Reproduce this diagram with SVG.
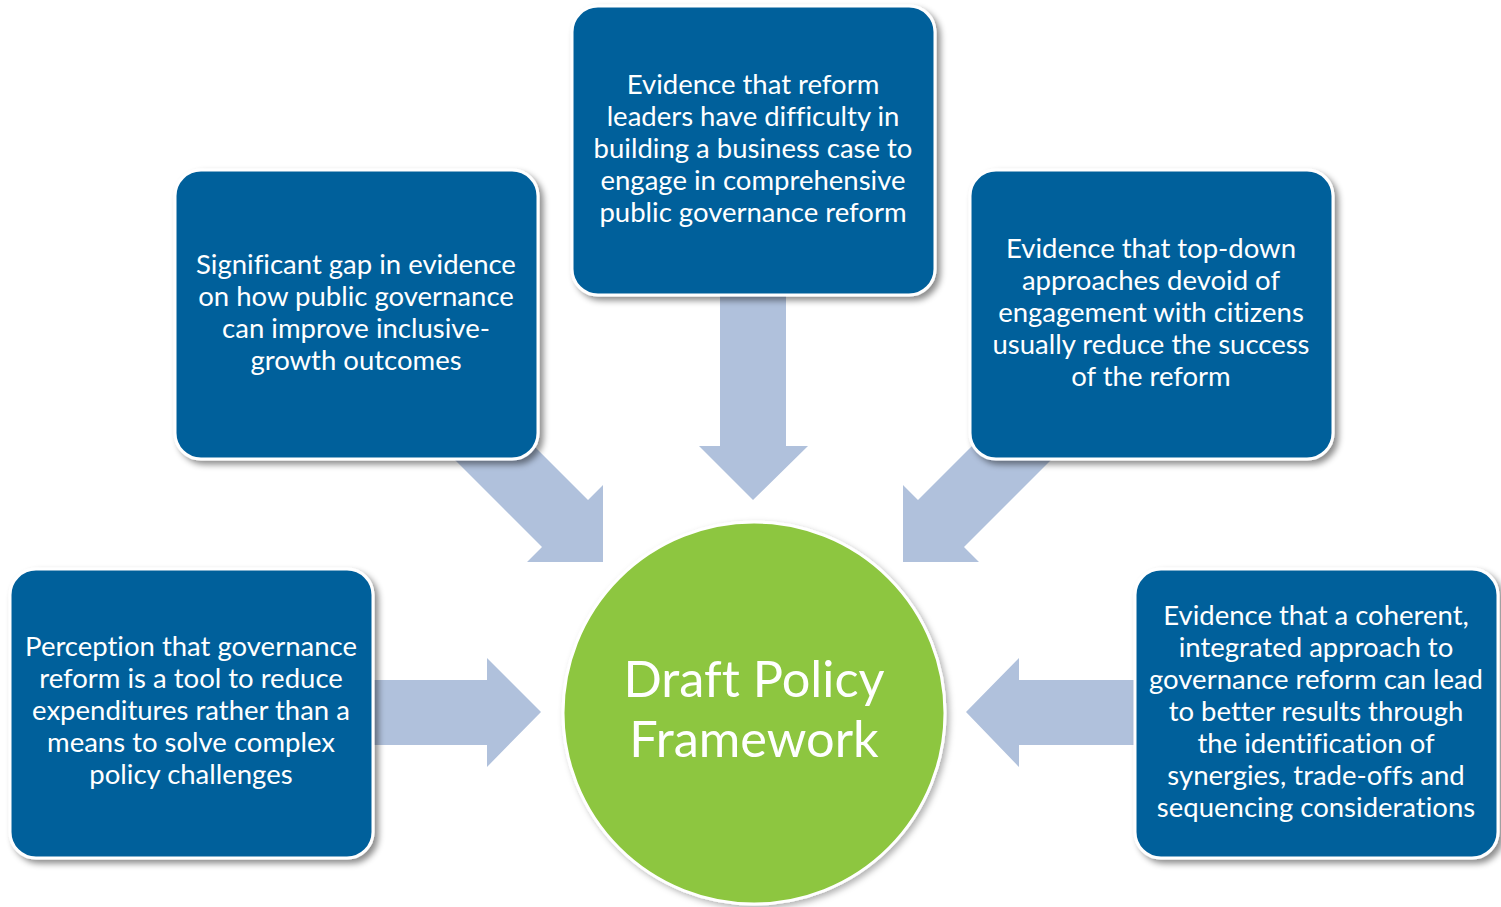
<svg xmlns="http://www.w3.org/2000/svg" width="1501" height="907" viewBox="0 0 1501 907">
<style>
.box{fill:#05619B;stroke:#FFFFFF;stroke-width:3;filter:url(#sh)}
.arr{fill:#B0C1DC}
.t{font-family:Lato,"Open Sans","DejaVu Sans",sans-serif;font-size:27.5px;fill:#FFFFFF;text-anchor:middle;font-variant-ligatures:none}
.c{font-family:Lato,"Open Sans","DejaVu Sans",sans-serif;font-size:50.5px;fill:#FFFFFF;text-anchor:middle;font-variant-ligatures:none}
</style>
<defs>
<filter id="sh" x="-10%" y="-10%" width="125%" height="125%">
<feDropShadow dx="4" dy="4" stdDeviation="3" flood-color="#000" flood-opacity="0.45"/>
</filter>
<filter id="shc" x="-10%" y="-10%" width="125%" height="125%">
<feDropShadow dx="3" dy="3" stdDeviation="3" flood-color="#000" flood-opacity="0.3"/>
</filter>
</defs>
<rect width="1501" height="907" fill="#FFFFFF"/>
<g id="connectors">
<polygon class="arr" points="720,280 786,280 786,446 808,446 753,500 699,446 720,446"/>
<polygon class="arr" points="360,680 487,680 487,658 541,712 487,767 487,745 360,745"/>
<polygon class="arr" points="1146,680 1019,680 1019,658 966,712 1019,767 1019,745 1146,745"/>
<polygon class="arr" points="488,400 588,500 603,485 603,562 527,562 542,547 440,445"/>
<polygon class="arr" points="1018,400 918,500 903,485 903,562 979,562 964,547 1066,445"/>
</g>
<g id="center">
<circle cx="754" cy="713" r="191" fill="#8DC63F" stroke="#FFFFFF" stroke-width="3" filter="url(#shc)"/>
<text class="c" x="754" y="697">Draft Policy</text>
<text class="c" x="754" y="757">Framework</text>
</g>
<g id="box-left">
<rect class="box" x="10" y="569" width="363" height="289" rx="26"/>
<text class="t" x="191" y="656">Perception that governance</text>
<text class="t" x="191" y="688">reform is a tool to reduce</text>
<text class="t" x="191" y="720">expenditures rather than a</text>
<text class="t" x="191" y="752">means to solve complex</text>
<text class="t" x="191" y="784">policy challenges</text>
</g>
<g id="box-upper-left">
<rect class="box" x="175" y="170" width="363" height="289" rx="26"/>
<text class="t" x="356" y="274">Significant gap in evidence</text>
<text class="t" x="356" y="306">on how public governance</text>
<text class="t" x="356" y="338">can improve inclusive-</text>
<text class="t" x="356" y="370">growth outcomes</text>
</g>
<g id="box-top">
<rect class="box" x="572" y="6" width="363" height="289" rx="26"/>
<text class="t" x="753" y="94">Evidence that reform</text>
<text class="t" x="753" y="126">leaders have difficulty in</text>
<text class="t" x="753" y="158">building a business case to</text>
<text class="t" x="753" y="190">engage in comprehensive</text>
<text class="t" x="753" y="222">public governance reform</text>
</g>
<g id="box-upper-right">
<rect class="box" x="970" y="170" width="363" height="289" rx="26"/>
<text class="t" x="1151" y="258">Evidence that top-down</text>
<text class="t" x="1151" y="290">approaches devoid of</text>
<text class="t" x="1151" y="322">engagement with citizens</text>
<text class="t" x="1151" y="354">usually reduce the success</text>
<text class="t" x="1151" y="386">of the reform</text>
</g>
<g id="box-right">
<rect class="box" x="1135" y="569" width="363" height="289" rx="26"/>
<text class="t" x="1316" y="625">Evidence that a coherent,</text>
<text class="t" x="1316" y="657">integrated approach to</text>
<text class="t" x="1316" y="689">governance reform can lead</text>
<text class="t" x="1316" y="721">to better results through</text>
<text class="t" x="1316" y="753">the identification of</text>
<text class="t" x="1316" y="785">synergies, trade-offs and</text>
<text class="t" x="1316" y="817">sequencing considerations</text>
</g>
</svg>
